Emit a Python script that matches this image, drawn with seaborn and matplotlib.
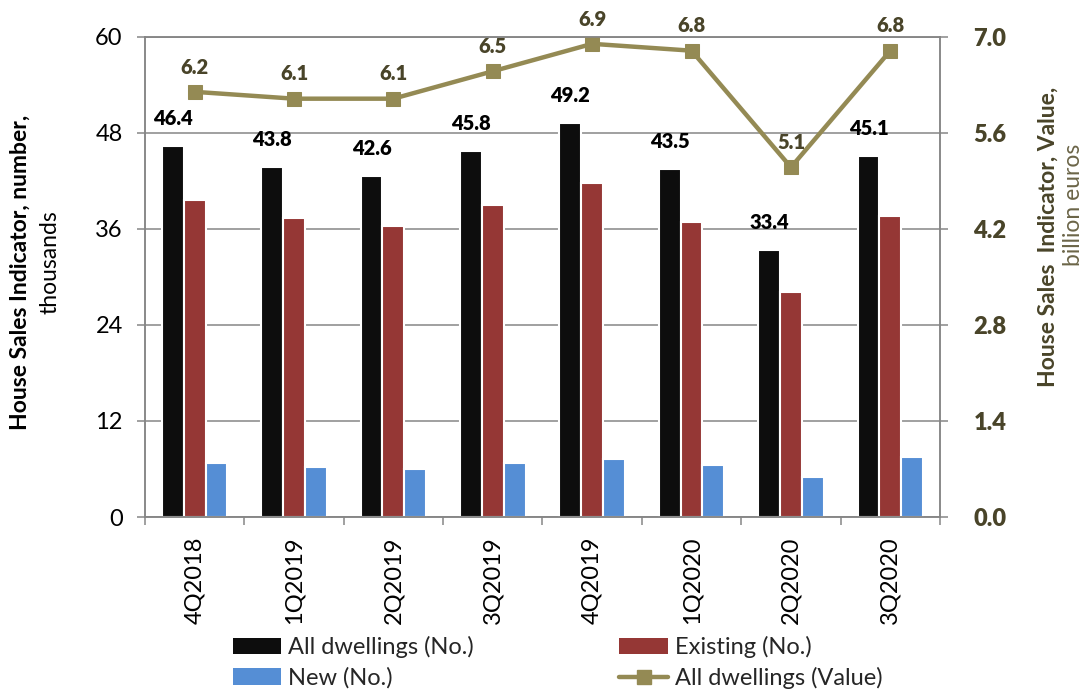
import numpy as np
import pandas as pd
import matplotlib
matplotlib.use("Agg")
import matplotlib.pyplot as plt
from matplotlib.patches import Patch
from matplotlib.lines import Line2D
from matplotlib.ticker import MultipleLocator, FixedLocator, FormatStrFormatter
import seaborn as sns

# ---- data ----
quarters = ["4Q2018", "1Q2019", "2Q2019", "3Q2019", "4Q2019", "1Q2020", "2Q2020", "3Q2020"]
all_dwellings = [46.4, 43.8, 42.6, 45.8, 49.2, 43.5, 33.4, 45.1]
existing = [39.6, 37.4, 36.4, 39.0, 41.8, 36.9, 28.1, 37.6]
new = [6.7, 6.2, 5.95, 6.7, 7.2, 6.45, 5.0, 7.45]
value_bn = [6.2, 6.1, 6.1, 6.5, 6.9, 6.8, 5.1, 6.8]

series_names = ["All dwellings (No.)", "Existing (No.)", "New (No.)"]
line_name = "All dwellings (Value)"

# ---- style ----
sns.set_style("white")
plt.rcParams["font.family"] = ["Lato", "DejaVu Sans"]

c_all = "#0D0D0D"
c_exist = "#953735"
c_new = "#558ED5"
c_line = "#948A54"
c_olive_txt = "#494429"
c_grid = "#868686"

df = pd.DataFrame({
    "quarter": quarters * 3,
    "series": np.repeat(series_names, len(quarters)),
    "value": all_dwellings + existing + new,
})

fig = plt.figure(figsize=(10.89, 6.91), dpi=100)
ax = fig.add_axes([0.1331, 0.2518, 0.7301, 0.6947])

sns.barplot(data=df, x="quarter", y="value", hue="series", order=quarters,
            hue_order=series_names, palette=[c_all, c_exist, c_new],
            saturation=1, width=0.66, edgecolor="white", linewidth=1.5,
            legend=False, ax=ax)

ax.set_xlim(-0.5, len(quarters) - 0.5)
ax.set_ylim(0, 60)
ax.yaxis.set_major_locator(MultipleLocator(12))
ax.set_axisbelow(True)
ax.grid(axis="y", color=c_grid, linewidth=1.1)
ax.grid(axis="x", visible=False)
ax.set_xlabel("")
ax.set_ylabel("")

for s in ax.spines.values():
    s.set_color(c_grid)
    s.set_linewidth(1.1)

ax.tick_params(axis="y", which="major", direction="out", length=6, width=1.1,
               color=c_grid, labelsize=17, pad=10, labelcolor="black", left=True)
ax.tick_params(axis="x", which="major", length=0, labelsize=17, pad=14,
               labelrotation=90, labelcolor="black")
ax.xaxis.set_minor_locator(FixedLocator(np.arange(-0.5, len(quarters), 1.0)))
ax.tick_params(axis="x", which="minor", direction="out", length=6, width=1.1,
               color=c_grid, bottom=True)

# value labels above the "All dwellings" bars
all_bars = ax.containers[0]
for rect, v in zip(all_bars, all_dwellings):
    ax.annotate(f"{v:.1f}", (rect.get_x() + rect.get_width() / 2, v),
                xytext=(0, 13), textcoords="offset points", ha="center",
                va="bottom", fontsize=14.5, fontweight="heavy", color="black")

# secondary axis: value line
ax2 = ax.twinx()
xpos = np.arange(len(quarters))
sns.lineplot(x=xpos, y=value_bn, ax=ax2, color=c_line, linewidth=3.2,
             marker="s", markersize=10, markeredgecolor=c_line,
             markerfacecolor=c_line)
ax2.set_ylim(0, 7)
ax2.set_yticks(np.arange(0, 7.01, 1.4))
ax2.yaxis.set_major_formatter(FormatStrFormatter("%.1f"))
ax2.set_ylabel("")
ax2.grid(False)
for s in ax2.spines.values():
    s.set_color(c_grid)
    s.set_linewidth(1.1)
ax2.tick_params(axis="y", direction="out", length=6, width=1.1, color=c_grid,
                labelsize=17, pad=18, labelcolor=c_olive_txt)
for lbl in ax2.get_yticklabels():
    lbl.set_fontweight("heavy")

for x, v in zip(xpos, value_bn):
    ax2.annotate(f"{v:.1f}", (x, v), xytext=(0, 11), textcoords="offset points",
                 ha="center", va="bottom", fontsize=14.5, fontweight="heavy",
                 color=c_olive_txt)

# axis titles
fig.text(20 / 1089, 1 - 272 / 691, "House Sales Indicator, number,", rotation=90,
         ha="center", va="center", fontsize=16.5, fontweight="bold", color="black")
fig.text(50 / 1089, 1 - 262 / 691, "thousands", rotation=90,
         ha="center", va="center", fontsize=16.5, color="black")
fig.text(1048 / 1089, 1 - 237 / 691, "House Sales  Indicator, Value,", rotation=90,
         ha="center", va="center", fontsize=16.5, fontweight="bold", color=c_olive_txt)
fig.text(1074 / 1089, 1 - 205 / 691, "billion euros", rotation=90,
         ha="center", va="center", fontsize=16.5, color="#6B6548")

# legend
handles = [
    Patch(facecolor=c_all, edgecolor="none"),
    Patch(facecolor=c_new, edgecolor="none"),
    Patch(facecolor=c_exist, edgecolor="none"),
    Line2D([0], [0], color=c_line, linewidth=3.2, marker="s", markersize=10),
]
labels = [series_names[0], series_names[2], series_names[1], line_name]
fig.legend(handles, labels, ncol=2, loc="upper left",
           bbox_to_anchor=(233 / 1089, 1 - 636 / 691), frameon=False,
           fontsize=17, borderpad=0, borderaxespad=0, handlelength=2.05,
           handletextpad=0.3, columnspacing=6.15, labelspacing=0.38)

fig.savefig("out.png", dpi=100)
